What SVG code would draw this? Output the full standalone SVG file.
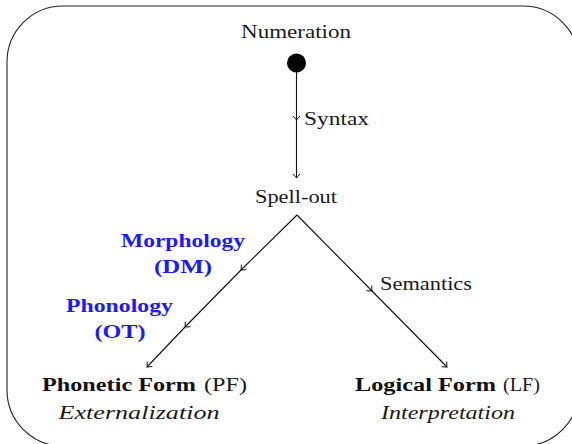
<svg xmlns="http://www.w3.org/2000/svg" width="572" height="444" viewBox="0 0 572 444" font-family="'Liberation Serif', 'DejaVu Serif', serif">
  <style>
    text { font-family: "Liberation Serif", "DejaVu Serif", serif; font-size: 19px; fill: #1a1a1a; }
    .b { font-weight: bold; fill: #111; }
    .blue { font-weight: bold; fill: #1a1aff; }
    .it { font-style: italic; }
    .edge { stroke: #111; stroke-width: 1.1; fill: none; }
  </style>
  <defs>
    <marker id="tip" viewBox="-5 -5 6 10" markerWidth="6" markerHeight="10" refX="0" refY="0" orient="auto" markerUnits="userSpaceOnUse">
      <path d="M -4,-3.6 Q -1.5,-1 0,0 Q -1.5,1 -4,3.6" fill="none" stroke="#111" stroke-width="1"/>
    </marker>
  </defs>

  <!-- outer frame -->
  <rect x="7" y="6" width="572" height="440" rx="56" ry="56" fill="none" stroke="#222" stroke-width="1.1"/>

  <!-- connectors -->
  <g id="connectors">
    <!-- Numeration to Spell-out -->
    <line class="edge" x1="296.5" y1="63" x2="296.5" y2="120" marker-end="url(#tip)"/>
    <line class="edge" x1="296.5" y1="120" x2="296.5" y2="178" marker-end="url(#tip)"/>
    <!-- Spell-out to PF -->
    <line class="edge" x1="297" y1="215" x2="241" y2="270" marker-end="url(#tip)"/>
    <line class="edge" x1="241" y1="270" x2="185" y2="327" marker-end="url(#tip)"/>
    <line class="edge" x1="185" y1="327" x2="147" y2="367" marker-end="url(#tip)"/>
    <!-- Spell-out to LF -->
    <line class="edge" x1="297" y1="215" x2="372" y2="291" marker-end="url(#tip)"/>
    <line class="edge" x1="372" y1="291" x2="447" y2="367" marker-end="url(#tip)"/>
  </g>

  <g id="numeration">
    <text x="296" y="37.5" text-anchor="middle" textLength="110" lengthAdjust="spacingAndGlyphs">Numeration</text>
    <circle cx="296.5" cy="63" r="9.5" fill="#000"/>
  </g>

  <g id="syntax-label">
    <text x="304" y="125" textLength="65" lengthAdjust="spacingAndGlyphs">Syntax</text>
  </g>

  <g id="spell-out">
    <text x="296" y="203" text-anchor="middle" textLength="82" lengthAdjust="spacingAndGlyphs">Spell-out</text>
  </g>

  <g id="morphology-label">
    <text class="blue" x="183" y="247" text-anchor="middle" textLength="124" lengthAdjust="spacingAndGlyphs">Morphology</text>
    <text class="blue" x="183" y="273" text-anchor="middle" textLength="58" lengthAdjust="spacingAndGlyphs">(DM)</text>
  </g>

  <g id="phonology-label">
    <text class="blue" x="119.5" y="312" text-anchor="middle" textLength="107" lengthAdjust="spacingAndGlyphs">Phonology</text>
    <text class="blue" x="120" y="338" text-anchor="middle" textLength="51" lengthAdjust="spacingAndGlyphs">(OT)</text>
  </g>

  <g id="semantics-label">
    <text x="380" y="290" textLength="92" lengthAdjust="spacingAndGlyphs">Semantics</text>
  </g>

  <g id="phonetic-form">
    <text class="b" x="42" y="391" textLength="154" lengthAdjust="spacingAndGlyphs">Phonetic Form</text>
    <text x="204" y="391" textLength="43" lengthAdjust="spacingAndGlyphs">(PF)</text>
    <text class="it" x="139" y="419" text-anchor="middle" textLength="161" lengthAdjust="spacingAndGlyphs">Externalization</text>
  </g>

  <g id="logical-form">
    <text class="b" x="355" y="391" textLength="141" lengthAdjust="spacingAndGlyphs">Logical Form</text>
    <text x="503" y="391" textLength="37" lengthAdjust="spacingAndGlyphs">(LF)</text>
    <text class="it" x="448" y="419" text-anchor="middle" textLength="134" lengthAdjust="spacingAndGlyphs">Interpretation</text>
  </g>
</svg>
